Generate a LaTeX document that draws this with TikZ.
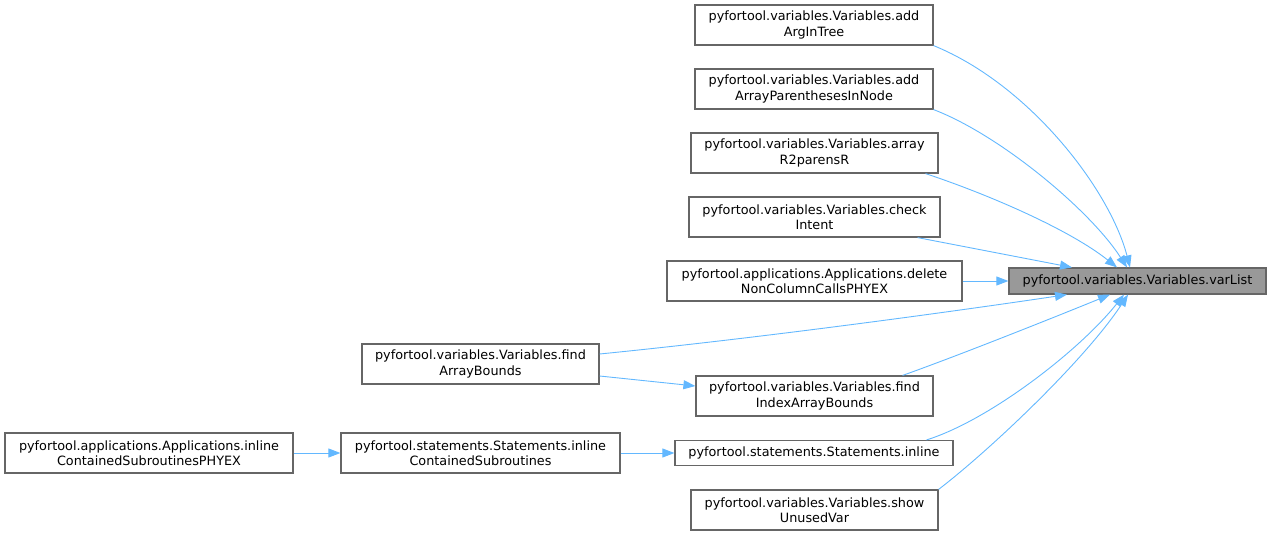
\documentclass[tikz,border=0pt]{standalone}
\usepackage{fontspec}
\setmainfont{DejaVu Sans}
\usetikzlibrary{arrows.meta}

\definecolor{edgeblue}{HTML}{63B8FF}
\definecolor{boxline}{HTML}{666666}
\definecolor{boxfill}{HTML}{999999}

\tikzset{
  fnbox/.style={draw=boxline, fill=white, line width=1.2pt, inner sep=0pt,
    minimum height=40pt, align=center, font=\fontsize{12.8}{15.4}\selectfont},
  callarrow/.style={draw=edgeblue, line width=0.9pt,
    -{Triangle[length=12pt,width=9pt]}},
}

\begin{document}
\begin{tikzpicture}[x=1pt, y=-1pt]
  \useasboundingbox (0,0) rectangle (1272,536);

  % --- funzione chiamata ---
  \node[fnbox, fill=boxfill, minimum width=257pt, minimum height=26pt] (varList)
    at (1137.5,281) {pyfortool.variables.Variables.varList};

  % --- chiamanti diretti ---
  \node[fnbox, minimum width=238pt] (addArgInTree) at (814,25)
    {pyfortool.variables.Variables.add\\ArgInTree};
  \node[fnbox, minimum width=238pt] (addArrayPar) at (814,89)
    {pyfortool.variables.Variables.add\\ArrayParenthesesInNode};
  \node[fnbox, minimum width=247pt] (arrayRparens) at (814.5,153)
    {pyfortool.variables.Variables.array\\R2parensR};
  \node[fnbox, minimum width=251pt] (checkIntent) at (814.5,217)
    {pyfortool.variables.Variables.check\\Intent};
  \node[fnbox, minimum width=295pt] (deleteNonCol) at (814.5,281)
    {pyfortool.applications.Applications.delete\\NonColumnCallsPHYEX};
  \node[fnbox, minimum width=237pt] (findIndexAB) at (814.5,396)
    {pyfortool.variables.Variables.find\\IndexArrayBounds};
  \node[fnbox, minimum width=278pt, minimum height=25pt] (stmInline) at (814,453)
    {pyfortool.statements.Statements.inline};
  \node[fnbox, minimum width=247pt] (showUnused) at (814.5,510)
    {pyfortool.variables.Variables.show\\UnusedVar};

  % --- chiamanti indiretti ---
  \node[fnbox, minimum width=237pt] (findArrayB) at (480.5,364)
    {pyfortool.variables.Variables.find\\ArrayBounds};
  \node[fnbox, minimum width=279pt] (inlineCont) at (480.5,453)
    {pyfortool.statements.Statements.inline\\ContainedSubroutines};
  \node[fnbox, minimum width=288pt] (inlinePHYEX) at (149,453)
    {pyfortool.applications.Applications.inline\\ContainedSubroutinesPHYEX};

  % --- archi verso varList ---
  \draw[callarrow] (addArgInTree.south east)
    .. controls (1030,85) and (1110,190) .. ([xshift=-7.5pt]varList.north);
  \draw[callarrow] (addArrayPar.south east)
    .. controls (1000,135) and (1090,210) .. ([xshift=-10.5pt]varList.north);
  \draw[callarrow] ([xshift=-13pt]arrayRparens.south east)
    .. controls (990,195) and (1070,230) .. ([xshift=-20.5pt]varList.north);
  \draw[callarrow] ([xshift=-23pt]checkIntent.south east) -- ([xshift=-65.5pt]varList.north);
  \draw[callarrow] (deleteNonCol.east) -- (varList.west);
  \draw[callarrow] ([yshift=10pt]findArrayB.east)
    .. controls (760,338) and (950,312) .. ([xshift=-70.5pt]varList.south);
  \draw[callarrow] ([xshift=-31pt]findIndexAB.north east)
    .. controls (960,355) and (1060,315) .. ([xshift=-27.5pt]varList.south);
  \draw[callarrow] ([xshift=-27pt]stmInline.north east)
    .. controls (990,420) and (1080,350) .. ([xshift=-13.5pt]varList.south);
  \draw[callarrow] (showUnused.north east)
    .. controls (990,450) and (1085,360) .. ([xshift=-9.5pt]varList.south);

  % --- archi tra chiamanti ---
  \draw[callarrow] ([yshift=-12pt]findArrayB.east) -- ([yshift=10pt]findIndexAB.west);
  \draw[callarrow] (inlineCont.east) -- (stmInline.west);
  \draw[callarrow] (inlinePHYEX.east) -- (inlineCont.west);

\end{tikzpicture}
\end{document}
